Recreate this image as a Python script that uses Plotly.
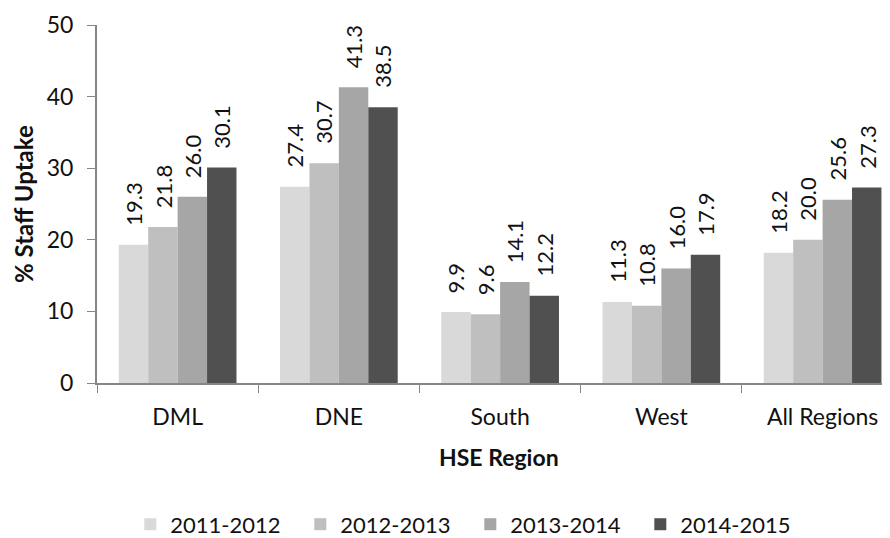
import plotly.graph_objects as go

categories = ["DML", "DNE", "South", "West", "All Regions"]
series_names = ["2011-2012", "2012-2013", "2013-2014", "2014-2015"]
v2011 = [19.3, 27.4, 9.9, 11.3, 18.2]
v2012 = [21.8, 30.7, 9.6, 10.8, 20.0]
v2013 = [26.0, 41.3, 14.1, 16.0, 25.6]
v2014 = [30.1, 38.5, 12.2, 17.9, 27.3]
colors = ["#D9D9D9", "#BFBFBF", "#A6A6A6", "#505050"]
yticks = [0, 10, 20, 30, 40, 50]

FONT = "Lato, Open Sans, sans-serif"
BARGAP = 0.27
series_values = [v2011, v2012, v2013, v2014]

fig = go.Figure()
for name, vals, col in zip(series_names, series_values, colors):
    fig.add_trace(go.Bar(
        name=name, x=categories, y=vals, marker=dict(color=col, line=dict(width=0)),
    ))

# value labels: rotated, just above each bar of the group
n = len(series_values)
bw = (1 - BARGAP) / n
labels = []
for i, vals in enumerate(series_values):
    for j, v in enumerate(vals):
        labels.append(dict(
            x=j + (i - (n - 1) / 2) * bw, y=v, xref="x", yref="y",
            text=f"{v:.1f}", textangle=-90, showarrow=False,
            xanchor="center", yanchor="bottom", yshift=17,
            font=dict(size=22, color="#111111", family=FONT),
        ))

fig.update_layout(
    width=882, height=530,
    margin=dict(l=89, r=0, t=17, b=155, autoexpand=False),
    paper_bgcolor="white", plot_bgcolor="white",
    barmode="group", bargap=BARGAP, bargroupgap=0,
    font=dict(family=FONT, size=22, color="#111111"),
    legend=dict(orientation="h", x=0.042, xanchor="left", y=-0.395, yanchor="middle",
                font=dict(size=22), itemwidth=30, traceorder="normal",
                entrywidth=125, entrywidthmode="pixels"),
    showlegend=True,
    annotations=labels + [
        dict(text="<b>% Staff Uptake</b>", xref="paper", yref="paper",
             x=-74 / 793, y=0.5, xanchor="center", yanchor="middle", textangle=-90,
             showarrow=False, font=dict(size=24, color="#111111")),
        dict(text="<b>HSE Region</b>", xref="paper", yref="paper",
             x=(499 - 97) / 793, y=-0.207, xanchor="center", yanchor="middle",
             showarrow=False, font=dict(size=23, color="#111111")),
    ],
)
fig.update_xaxes(
    range=[-0.5, 4.418], showline=True, linecolor="#868686", linewidth=2,
    ticks="outside", tickson="boundaries", ticklen=8, tickcolor="#868686", tickwidth=1,
    showgrid=False, tickfont=dict(size=23), automargin=False, ticklabelstandoff=12,
)
fig.update_yaxes(
    range=[0, 50], tickvals=yticks, showline=True, linecolor="#868686", linewidth=2,
    ticks="outside", ticklen=8, tickcolor="#868686", tickwidth=1,
    showgrid=False, zeroline=False, tickfont=dict(size=23), automargin=False,
    ticklabelstandoff=9,
)

fig.write_html("out.html")
